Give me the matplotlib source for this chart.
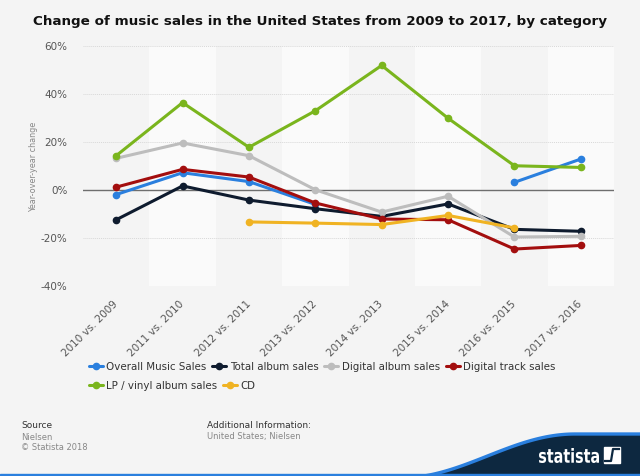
import numpy as np
import matplotlib
matplotlib.use('Agg')
import matplotlib.pyplot as plt
import matplotlib.transforms as mtransforms
from matplotlib.patches import Polygon, Rectangle, PathPatch
from matplotlib.textpath import TextPath
from matplotlib.font_manager import FontProperties
from matplotlib.lines import Line2D

# Data
periods = ['2010 vs. 2009', '2011 vs. 2010', '2012 vs. 2011', '2013 vs. 2012',
           '2014 vs. 2013', '2015 vs. 2014', '2016 vs. 2015', '2017 vs. 2016']
nan = np.nan
overall = [-1.9, 7.2, 3.5, -6.0, nan, nan, 3.2, 12.9]
total_album = [-12.4, 1.7, -4.2, -7.8, -11.0, -5.8, -16.4, -17.2]
digital_album = [13.2, 19.6, 14.3, 0.1, -9.2, -2.6, -19.6, -19.3]
digital_track = [1.2, 8.6, 5.4, -5.4, -12.1, -12.4, -24.6, -23.1]
vinyl = [14.3, 36.4, 17.8, 33.0, 51.9, 29.9, 10.1, 9.4]
cd = [nan, nan, -13.3, -13.8, -14.4, -10.6, -15.8, nan]

series = [
    ('Overall Music Sales', overall, '#2a7fde'),
    ('Total album sales', total_album, '#0e1b2e'),
    ('Digital album sales', digital_album, '#bdbdbd'),
    ('Digital track sales', digital_track, '#a30e0e'),
    ('LP / vinyl album sales', vinyl, '#7ab51d'),
    ('CD', cd, '#f0b323'),
]

W, H = 640, 476
bg = '#f4f4f4'
fig = plt.figure(figsize=(6.4, 4.76), dpi=100, facecolor=bg)
ax = fig.add_axes([83 / W, 1 - 286 / H, 531 / W, 240 / H])
ax.set_facecolor(bg)

x = np.arange(len(periods))

# alternating column bands
for i in x:
    if i % 2 == 1:
        ax.axvspan(i - 0.5, i + 0.5, color='#fafafa', zorder=0, lw=0)

for y in [-40, -20, 20, 40, 60]:
    ax.axhline(y, color='#d8d8d8', lw=0.7, ls=(0, (1, 1)), zorder=1)
ax.axhline(0, color='#6e6e6e', lw=1.0, zorder=2)

handles = []
for k, (name, vals, col) in enumerate(series):
    ln, = ax.plot(x, vals, color=col, lw=2.2, marker='o', markersize=4.5,
                  solid_capstyle='round', zorder=3 + k, label=name)
    handles.append(ln)

ax.set_xlim(-0.5, 7.5)
ax.set_ylim(-40, 60)
yt = [-40, -20, 0, 20, 40, 60]
ax.set_yticks(yt)
ax.set_yticklabels([f'{v}%' for v in yt], fontsize=7.5, color='#555555')
ax.set_xticks(x)
ax.set_xticklabels(periods, rotation=45, ha='right', rotation_mode='anchor',
                   fontsize=7.5, color='#555555')
ax.tick_params(axis='y', length=0, pad=11)
ax.tick_params(axis='x', length=0, pad=6)
shift = mtransforms.ScaledTranslation(-0.035, -0.05, fig.dpi_scale_trans)
for lab in ax.get_xticklabels():
    lab.set_transform(lab.get_transform() + shift)
for s in ax.spines.values():
    s.set_visible(False)

fig.text(34 / W, 1 - 167 / H, 'Year-over-year change', rotation=90,
         fontsize=5.8, color='#888888', ha='center', va='center')

fig.text(0.5, 1 - 22 / H,
         'Change of music sales in the United States from 2009 to 2017, by category',
         ha='center', va='center', fontsize=9.7, fontweight='bold', color='#111111')

# legend, two rows, flowing left to right
leg_kw = dict(loc='center left', frameon=False, fontsize=7.4, handlelength=1.36,
              handletextpad=0.3, columnspacing=0.6, borderpad=0, borderaxespad=0)
leg1 = fig.legend(handles[:4], [s[0] for s in series[:4]], ncol=4,
                  bbox_to_anchor=(89 / W, 1 - 367 / H), **leg_kw)
leg2 = fig.legend(handles[4:], [s[0] for s in series[4:]], ncol=2,
                  bbox_to_anchor=(89 / W, 1 - 386 / H), **leg_kw)
for leg in (leg1, leg2):
    for t in leg.get_texts():
        t.set_color('#333333')

# footer
fig.text(21 / W, 1 - 426 / H, 'Source', fontsize=6.5, color='#333333', va='center')
fig.text(21 / W, 1 - 437 / H, 'Nielsen', fontsize=6, color='#888888', va='center')
fig.text(21 / W, 1 - 448 / H, '\u00a9 Statista 2018', fontsize=6, color='#888888', va='center')
fig.text(207 / W, 1 - 426 / H, 'Additional Information:', fontsize=6.5, color='#333333', va='center')
fig.text(207 / W, 1 - 437 / H, 'United States; Nielsen', fontsize=6, color='#888888', va='center')

# statista wave logo
t = np.linspace(0, 1, 80)
wx = 400 + t * 175
wy = 478 - 44 * (0.5 - 0.5 * np.cos(np.pi * t))
xs = np.concatenate([wx, [W, W]]) / W
ys = 1 - np.concatenate([wy, [434, H]]) / H
fig.patches.append(Polygon(np.column_stack([xs, ys]), closed=True,
                           transform=fig.transFigure, color='#0d2840', zorder=1))
fig.lines.append(Line2D(np.concatenate([wx, [W]]) / W,
                        1 - np.concatenate([wy, [434]]) / H,
                        transform=fig.transFigure, color='#2a7fde', lw=2.4, zorder=2))
fig.patches.append(Rectangle((0, 0), 1, 2 / H, transform=fig.transFigure,
                             color='#2a7fde', zorder=2))

# condensed "statista" word mark fitted into its box (pixel coords)
tp = TextPath((0, 0), 'statista', size=20,
              prop=FontProperties(family='DejaVu Sans', weight='bold'))
ext = tp.get_extents()
box = (539, 448, 599, 463)
sx = (box[2] - box[0]) / ext.width
sy = (box[3] - box[1]) / ext.height
tr = (mtransforms.Affine2D().translate(-ext.x0, -ext.y0).scale(sx, sy)
      .translate(box[0], H - box[3]))
fig.patches.append(PathPatch(tr.transform_path(tp), color='white', lw=0,
                             transform=mtransforms.IdentityTransform(), zorder=3))
fig.patches.append(Rectangle((604 / W, 1 - 463 / H), 16 / W, 16 / H,
                             transform=fig.transFigure, color='white', zorder=3))
fig.lines.append(Line2D([605 / W, 611 / W, 613 / W, 619 / W],
                        [1 - 461 / H, 1 - 461 / H, 1 - 449 / H, 1 - 449 / H],
                        transform=fig.transFigure, color='#0d2840', lw=1.6, zorder=4))

fig.savefig('out.png', dpi=100, facecolor=bg)
